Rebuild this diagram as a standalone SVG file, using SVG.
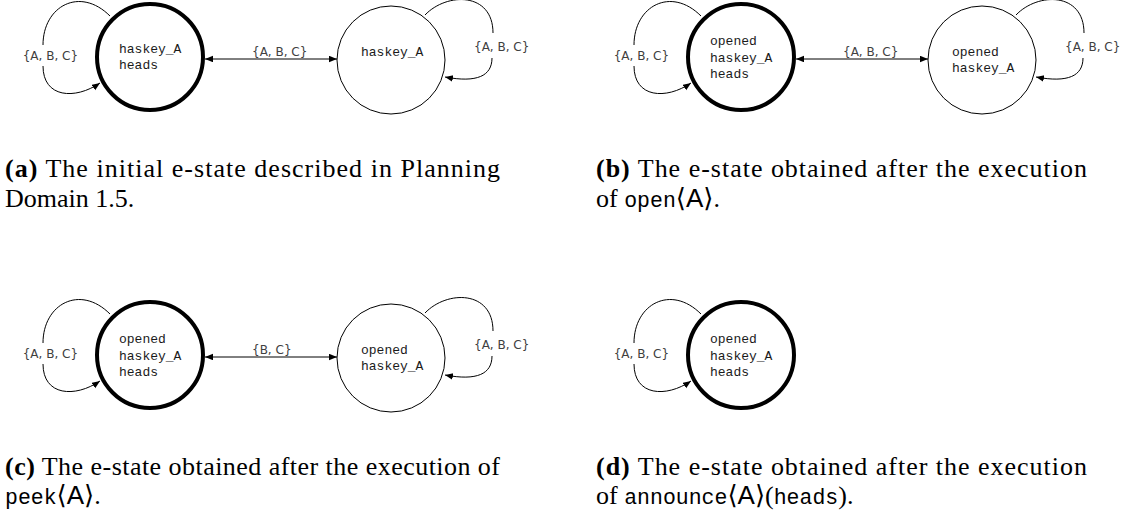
<svg xmlns="http://www.w3.org/2000/svg" width="1143" height="520" viewBox="0 0 1143 520">
<style>
  .cur { fill: #fff; stroke: #000; stroke-width: 4; }
  .st { fill: #fff; stroke: #000; stroke-width: 1; }
  .nt { font-family: "Liberation Mono", monospace; font-size: 13px; fill: #1a1a1a; }
  .e { fill: none; stroke: #000; stroke-width: 1; }
  .arr { marker-end: url(#ah); }
  .bi { marker-start: url(#ah); marker-end: url(#ah); }
  .el { font-family: "DejaVu Sans", sans-serif; font-size: 12px; fill: #404040; }
  .cap { font-family: "Liberation Serif", serif; font-size: 26px; fill: #000; }
  .b { font-weight: bold; }
  .tt { font-family: "Liberation Mono", monospace; font-size: 21.5px; }
  .sf { font-family: "Liberation Sans", sans-serif; }
  .br { font-family: "DejaVu Sans", sans-serif; }
</style>
<defs>
  <marker id="ah" markerWidth="9" markerHeight="8" refX="8" refY="3.25" orient="auto-start-reverse" markerUnits="userSpaceOnUse">
    <path d="M0,0 L8,3.25 L0,6.5 z" fill="#000"/>
  </marker>
</defs>
<rect width="1143" height="520" fill="#fff"/>

<!-- Panel (a) -->
<g id="panel-a">
  <g id="a-connectors">
    <path class="e arr" d="M110,16 C80,-14 43,6 43,45 M43,66 C43,98 75,100 100,83"/>
    <path class="e bi" d="M205,59 L337,59"/>
    <path class="e arr" d="M425,15 C447,-8 493,-8 493,33 M492,58 C492,76 477,83 445,77"/>
    <text class="el" x="22.7" y="59.5">{A, B, C}</text>
    <text class="el" x="252" y="55.5">{A, B, C}</text>
    <text class="el" x="474" y="51">{A, B, C}</text>
  </g>
  <g id="a-node0">
    <circle class="cur" cx="150" cy="57" r="53"/>
    <text class="nt" x="119" y="52.5">haskey_A</text>
    <text class="nt" x="119" y="69">heads</text>
  </g>
  <g id="a-node1">
    <circle class="st" cx="391" cy="60" r="54"/>
    <text class="nt" x="361" y="55.5">haskey_A</text>
  </g>
</g>

<!-- Panel (b) -->
<g id="panel-b" transform="translate(591,0)">
  <g id="b-connectors">
    <path class="e arr" d="M110,16 C80,-14 43,6 43,45 M43,66 C43,98 75,100 100,83"/>
    <path class="e bi" d="M205,59 L337,59"/>
    <path class="e arr" d="M425,15 C447,-8 493,-8 493,33 M492,58 C492,76 477,83 445,77"/>
    <text class="el" x="22.7" y="59.5">{A, B, C}</text>
    <text class="el" x="252" y="55.5">{A, B, C}</text>
    <text class="el" x="474" y="51">{A, B, C}</text>
  </g>
  <g id="b-node0">
    <circle class="cur" cx="150" cy="57" r="53"/>
    <text class="nt" x="119" y="45.2">opened</text>
    <text class="nt" x="119" y="61.8">haskey_A</text>
    <text class="nt" x="119" y="78.4">heads</text>
  </g>
  <g id="b-node1">
    <circle class="st" cx="391" cy="60" r="54"/>
    <text class="nt" x="361" y="55.5">opened</text>
    <text class="nt" x="361" y="72">haskey_A</text>
  </g>
</g>

<!-- Panel (c) -->
<g id="panel-c" transform="translate(0,298)">
  <g id="c-connectors">
    <path class="e arr" d="M110,16 C80,-14 43,6 43,45 M43,66 C43,98 75,100 100,83"/>
    <path class="e bi" d="M205,59 L337,59"/>
    <path class="e arr" d="M425,15 C447,-8 493,-8 493,33 M492,58 C492,76 477,83 445,77"/>
    <text class="el" x="22.7" y="59.5">{A, B, C}</text>
    <text class="el" x="252" y="55.5">{B, C}</text>
    <text class="el" x="474" y="51">{A, B, C}</text>
  </g>
  <g id="c-node0">
    <circle class="cur" cx="150" cy="57" r="53"/>
    <text class="nt" x="119" y="45.2">opened</text>
    <text class="nt" x="119" y="61.8">haskey_A</text>
    <text class="nt" x="119" y="78.4">heads</text>
  </g>
  <g id="c-node1">
    <circle class="st" cx="391" cy="60" r="54"/>
    <text class="nt" x="361" y="55.5">opened</text>
    <text class="nt" x="361" y="72">haskey_A</text>
  </g>
</g>

<!-- Panel (d) -->
<g id="panel-d" transform="translate(591,298)">
  <g id="d-connectors">
    <path class="e arr" d="M110,16 C80,-14 43,6 43,45 M43,66 C43,98 75,100 100,83"/>
    <text class="el" x="22.7" y="59.5">{A, B, C}</text>
  </g>
  <g id="d-node0">
    <circle class="cur" cx="150" cy="57" r="53"/>
    <text class="nt" x="119" y="45.2">opened</text>
    <text class="nt" x="119" y="61.8">haskey_A</text>
    <text class="nt" x="119" y="78.4">heads</text>
  </g>
</g>

<!-- Captions -->
<g id="captions">
  <text class="cap" x="5" y="177" textLength="495" lengthAdjust="spacing"><tspan class="b">(a)</tspan> The initial e-state described in Planning</text>
  <text class="cap" x="5" y="207">Domain 1.5.</text>

  <text class="cap" x="596" y="177" textLength="491" lengthAdjust="spacing"><tspan class="b">(b)</tspan> The e-state obtained after the execution</text>
  <text class="cap" x="596" y="207">of <tspan class="tt">open</tspan><tspan class="br">⟨</tspan><tspan class="sf">A</tspan><tspan class="br">⟩</tspan>.</text>

  <text class="cap" x="5" y="475" textLength="495" lengthAdjust="spacing"><tspan class="b">(c)</tspan> The e-state obtained after the execution of</text>
  <text class="cap" x="5" y="504"><tspan class="tt">peek</tspan><tspan class="br">⟨</tspan><tspan class="sf">A</tspan><tspan class="br">⟩</tspan>.</text>

  <text class="cap" x="596" y="475" textLength="491" lengthAdjust="spacing"><tspan class="b">(d)</tspan> The e-state obtained after the execution</text>
  <text class="cap" x="596" y="504">of <tspan class="tt">announce</tspan><tspan class="br">⟨</tspan><tspan class="sf">A</tspan><tspan class="br">⟩</tspan>(<tspan class="tt">heads</tspan>).</text>
</g>
</svg>
